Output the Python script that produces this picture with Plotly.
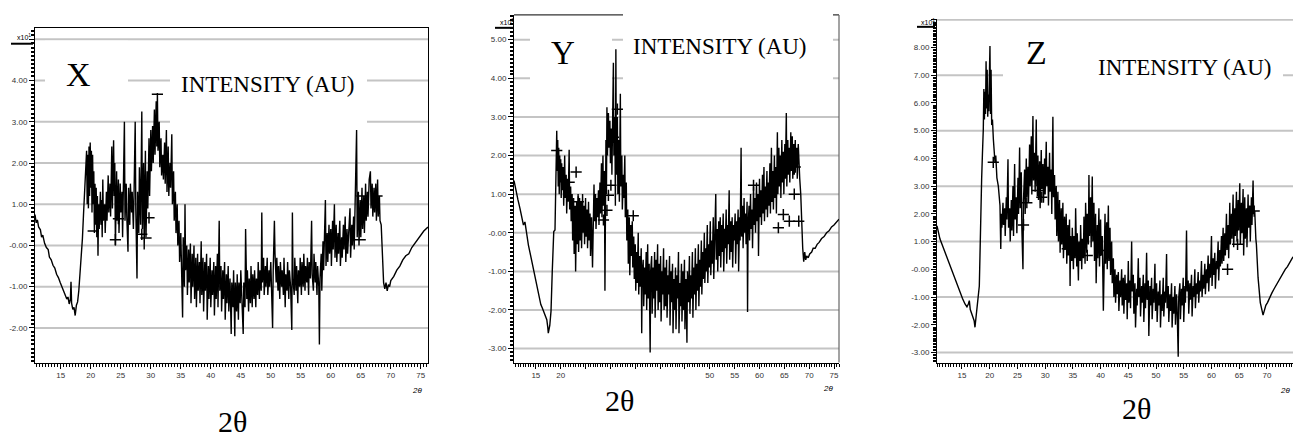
import plotly.graph_objects as go

W, H = 1293, 439

# ---------------- data ----------------
# Sample X : 2theta and intensity (x10^1 a.u.)
X_theta = [
    10.7, 10.9, 11.1, 11.3, 11.6, 11.8, 12.0, 12.3, 12.6, 12.9,
    13.1, 13.4, 13.7, 14.0, 14.3, 14.6, 14.9, 15.2, 15.5, 15.8,
    16.0, 16.2, 16.4, 16.6, 16.7, 16.8, 17.0, 17.2, 17.4, 17.6,
    17.8, 18.0, 18.2, 18.4, 18.6, 18.8, 19.0, 19.2,
    19.3, 19.4, 19.5, 19.6, 19.7, 19.8, 19.9, 20.0, 20.1, 20.2,
    20.3, 20.4, 20.5, 20.6, 20.7, 20.8, 20.9, 21.0, 21.1, 21.2,
    21.3, 21.4, 21.6, 21.7, 21.8, 21.9, 22.0, 22.1, 22.3, 22.4,
    22.6, 22.7, 22.9, 23.0, 23.2, 23.3, 23.5, 23.6, 23.8, 23.9,
    24.0, 24.1, 24.3, 24.4, 24.6, 24.7, 24.9, 25.0, 25.2, 25.3,
    25.5, 25.6, 25.7, 25.9, 26.0, 26.2, 26.3, 26.5, 26.6, 26.8,
    26.9, 27.1, 27.2, 27.4, 27.5, 27.7, 27.8, 28.0, 28.1, 28.3,
    28.5, 28.6, 28.8, 28.9, 29.1, 29.2, 29.4, 29.5, 29.7, 29.8,
    30.0, 30.1, 30.3, 30.4, 30.6, 30.7, 30.9, 31.0, 31.1, 31.2,
    31.4, 31.5, 31.7, 31.8, 32.0, 32.1, 32.3, 32.4, 32.6, 32.7,
    32.9, 33.0, 33.2, 33.3, 33.5, 33.6, 33.8, 33.9, 34.1, 34.2,
    34.4, 34.5, 34.7, 34.8, 35.0, 35.1, 35.3, 35.4, 35.6, 35.7,
    35.8, 36.0, 36.1, 36.3, 36.4, 36.6, 36.7, 36.9, 37.0, 37.2,
    37.3, 37.5, 37.6, 37.8, 37.9, 38.1, 38.2, 38.4, 38.5, 38.7,
    38.8, 39.0, 39.1, 39.3, 39.4, 39.6, 39.7, 39.9, 40.0, 40.2,
    40.3, 40.5, 40.6, 40.8, 40.9, 41.1, 41.2, 41.4, 41.5, 41.7,
    41.8, 42.0, 42.1, 42.3, 42.4, 42.6, 42.7, 42.9, 43.0, 43.2,
    43.4, 43.5, 43.7, 43.8, 44.0, 44.1, 44.3, 44.4, 44.6, 44.7,
    44.9, 45.0, 45.2, 45.4, 45.5, 45.7, 45.8, 46.0, 46.1, 46.3,
    46.4, 46.6, 46.7, 46.9, 47.0, 47.2, 47.3, 47.5, 47.6, 47.8,
    47.9, 48.1, 48.2, 48.4, 48.5, 48.6, 48.8, 48.9, 49.1, 49.2,
    49.4, 49.5, 49.7, 49.8, 50.0, 50.1, 50.3, 50.4, 50.6, 50.7,
    50.9, 51.0, 51.2, 51.3, 51.5, 51.6, 51.8, 51.9, 52.1, 52.2,
    52.4, 52.5, 52.7, 52.8, 53.0, 53.1, 53.3, 53.5, 53.6, 53.7,
    53.9, 54.0, 54.2, 54.3, 54.5, 54.6, 54.8, 54.9, 55.1, 55.2,
    55.4, 55.5, 55.7, 55.8, 56.0, 56.1, 56.3, 56.4, 56.6, 56.8,
    56.9, 57.1, 57.2, 57.4, 57.5, 57.7, 57.8, 58.0, 58.1, 58.2,
    58.4, 58.5, 58.7, 58.8, 59.0, 59.1, 59.2, 59.4, 59.5, 59.7,
    59.8, 60.0, 60.1, 60.3, 60.4, 60.6, 60.7, 60.9, 61.0, 61.2,
    61.3, 61.5, 61.6, 61.8, 61.9, 62.1, 62.2, 62.4, 62.5, 62.7,
    62.8, 63.0, 63.2, 63.3, 63.5, 63.6, 63.8, 63.9, 64.1, 64.3,
    64.4, 64.6, 64.7, 64.9, 65.0, 65.2, 65.3, 65.5, 65.6, 65.8,
    65.9, 66.1, 66.2, 66.4, 66.6, 66.7, 66.9, 67.0, 67.2, 67.3,
    67.5, 67.6, 67.8, 67.9, 68.1, 68.2, 68.4, 68.6, 68.8, 69.0,
    69.2, 69.4, 69.6, 69.8, 70.0, 70.5, 71.0, 71.5, 72.0, 72.5,
    73.0, 73.5, 74.0, 74.5, 75.0, 75.5, 76.2,
]
X_int = [
    0.75, 0.55, 0.62, 0.45, 0.38, 0.20, 0.25, 0.05, -0.05, -0.10,
    -0.28, -0.35, -0.48, -0.55, -0.70, -0.78, -0.90, -1.00, -1.12, -1.20,
    -1.30, -1.25, -1.42, -1.30, -0.88, -1.40, -1.55, -1.50, -1.70, -1.45,
    -1.37, -1.10, -0.72, -0.30, 0.16, 0.80, 1.50, 2.20,
    2.3, 1.0, 2.2, 0.9, 2.4, 1.2, 2.5, 1.4, 2.3, 0.8,
    2.2, 1.0, 1.8, 0.3, 1.5, 0.5, 1.4, 0.2, 1.2, -0.25,
    1.0, 0.4, 1.3, 0.5, 1.1, 0.2, 1.6, 0.6, 1.0, 0.3,
    1.3, 0.6, 1.7, 0.8, 1.5, 0.7, 2.4, 0.9, 2.55, 1.2,
    2.0, 0.0, 1.8, 0.6, 1.6, 0.3, 1.5, 0.8, 1.3, 0.2,
    1.6, 3.0, 0.6, 1.5, 0.7, -0.15, 1.4, 0.5, 1.5, 0.8,
    1.3, 0.4, 1.2, 3.0, 0.9, -0.8, 1.3, 0.3, 1.9, 0.5,
    3.25, 0.4, 2.0, -0.1, 2.3, 0.2, 1.8, 0.9, 2.6, 1.2,
    2.8, 1.8, 2.9, 2.0, 3.3, 2.2, 3.5, 2.4, 3.7, 2.3,
    3.0, 1.9, 2.6, 1.7, 2.2, 1.6, 2.5, 1.5, 2.8, 1.3,
    2.4, 1.2, 2.0, 1.4, 2.7, 1.0, 1.8, 0.6, 1.3, 0.3,
    1.0, 0.0, 0.6, -0.4, 0.3, -0.6, -1.75, 0.2, -1.0, 1.0,
    -0.6, 0.0, -1.2, -0.1, -0.9, 0.05, -1.4, -0.2, -1.0, 0.0,
    -1.3, -0.3, -1.5, -0.2, -1.1, -0.4, -1.4, 0.1, -1.2, -0.3,
    -1.6, -0.4, -1.1, -0.2, -1.8, -0.5, -1.3, -0.3, -1.5, -0.6,
    -1.2, -0.4, -1.7, -0.5, -1.3, -0.2, -1.5, 0.6, -1.1, -0.5,
    -1.6, -0.6, -1.3, -0.4, -1.8, -0.7, -1.4, -0.5, -1.6, -0.8,
    -2.15, -0.9, -1.5, -0.6, -2.2, -0.9, -1.6, -0.7, -1.8, -0.9,
    -1.4, -0.6, -1.7, -2.15, -0.9, -1.5, 0.4, -1.3, -0.6, -1.6,
    -0.8, -1.4, -0.5, -1.5, -0.7, -1.3, -0.6, -1.5, -0.8, -1.2,
    -0.4, -1.3, -0.6, -1.1, 0.8, -0.9, -0.3, -1.2, -0.5, -1.0,
    -0.3, -1.2, -0.6, -1.0, -0.4, -1.1, -2.0, -0.6, 0.6, -0.2,
    -0.9, -0.3, -1.1, -0.5, -1.3, -0.4, -1.0, -0.6, -1.2, -0.3,
    -1.5, -0.7, -1.1, -0.4, -1.3, -0.6, -1.0, -2.05, 0.8, -0.8,
    -1.2, -0.3, -1.1, -0.5, -1.4, -0.6, -1.0, -0.3, -1.2, -0.4,
    -1.0, -0.2, -1.1, -0.5, -0.9, -0.3, -1.2, -0.4, -0.8, 0.6,
    -0.7, -1.1, -0.2, -0.9, -0.4, -1.2, -0.5, -1.0, -2.4, -0.8,
    -0.2, -1.1, 0.1, -0.6, 0.2, 1.1, -0.5, 0.3, -0.4, 0.5,
    -0.2, 0.4, -0.5, 0.6, -0.1, 1.0, -0.3, 0.5, -0.4, 0.3,
    -0.2, 0.6, -0.5, 0.2, -0.3, 0.5, -0.1, 0.7, -0.4, 0.4,
    -0.2, 0.6, 0.9, -0.3, 0.5, 0.0, 0.7, -0.1, 1.2, 2.8,
    0.2, 1.3, 0.0, 1.1, 0.2, 1.4, 0.4, 1.2, 0.3, 1.5,
    0.6, 1.3, 0.7, 1.6, 1.8, 0.9, 1.5, 0.7, 1.4, 0.8,
    1.5, 0.6, 1.6, 0.7, 1.2, 0.6, 0.5, -0.3, -0.9, -1.05,
    -0.9, -1.1, -0.95, -1.0, -0.85, -0.75, -0.6, -0.5, -0.35, -0.25,
    -0.2, -0.05, 0.05, 0.15, 0.25, 0.35, 0.45,
]
X_cross_theta = [24.1, 24.6, 28.5, 29.7]
X_cross_int = [0.14, 0.65, 0.27, 0.67]
X_dash_theta = [20.4, 29.2, 31.1, 64.9, 65.2, 67.7]
X_dash_int = [0.35, 0.18, 3.67, 0.14, 1.2, 1.2]

# Sample Y
Y_theta = [
    10.6, 10.8, 11.1, 11.4, 11.8, 12.1, 12.5, 12.8, 13.1, 13.5,
    13.8, 14.2, 14.5, 14.8, 15.2, 15.5, 15.8, 16.0, 16.3, 16.5,
    16.8, 17.0, 17.2, 17.4, 17.5, 17.8, 18.05, 18.3, 18.6, 18.85,
    19.0, 19.2,
    19.3, 19.4, 19.5, 19.6, 19.7, 19.8, 19.9, 20.0, 20.1, 20.2,
    20.3, 20.5, 20.6, 20.8, 20.9, 21.1, 21.2, 21.4, 21.5, 21.7,
    21.8, 22.0, 22.1, 22.3, 22.4, 22.6, 22.7, 22.9, 23.0, 23.2,
    23.3, 23.5, 23.6, 23.8, 23.9, 24.1, 24.2, 24.4, 24.5, 24.7,
    24.8, 25.0, 25.1, 25.3, 25.4, 25.6, 25.7, 25.9, 26.0, 26.2,
    26.4, 26.5, 26.7, 26.8, 27.0, 27.1, 27.3, 27.4, 27.6, 27.7,
    27.9, 28.0, 28.2, 28.3, 28.5, 28.6, 28.8, 28.9, 29.0, 29.1,
    29.2, 29.3, 29.4, 29.6, 29.7, 29.9, 30.0, 30.2, 30.3, 30.5,
    30.6, 30.7, 30.9, 31.0, 31.1, 31.2, 31.4, 31.5, 31.7, 31.8,
    32.0, 32.1, 32.3, 32.4, 32.6, 32.7, 32.9, 33.0, 33.2, 33.3,
    33.5, 33.6, 33.8, 33.9, 34.1, 34.2, 34.4, 34.5, 34.7, 34.8,
    35.0, 35.1, 35.3, 35.4, 35.6, 35.7, 35.9, 36.0, 36.2, 36.3,
    36.4, 36.6, 36.7, 36.9, 37.0, 37.2, 37.3, 37.5, 37.6, 37.8,
    38.0, 38.1, 38.3, 38.4, 38.6, 38.7, 38.9, 39.0, 39.2, 39.3,
    39.5, 39.6, 39.8, 39.9, 40.1, 40.2, 40.4, 40.5, 40.7, 40.8,
    41.0, 41.1, 41.3, 41.4, 41.6, 41.7, 41.9, 42.0, 42.2, 42.3,
    42.5, 42.6, 42.8, 42.9, 43.1, 43.2, 43.4, 43.5, 43.7, 43.8,
    44.0, 44.1, 44.3, 44.4, 44.6, 44.7, 44.9, 45.0, 45.2, 45.4,
    45.5, 45.7, 45.9, 46.0, 46.2, 46.3, 46.5, 46.6, 46.8, 46.9,
    47.1, 47.2, 47.4, 47.5, 47.7, 47.8, 48.0, 48.1, 48.3, 48.4,
    48.6, 48.7, 48.9, 49.0, 49.2, 49.3, 49.5, 49.6, 49.8, 49.9,
    50.1, 50.2, 50.4, 50.5, 50.7, 50.8, 51.0, 51.2, 51.3, 51.5,
    51.6, 51.8, 51.9, 52.1, 52.2, 52.4, 52.5, 52.7, 52.8, 53.0,
    53.1, 53.3, 53.4, 53.6, 53.7, 53.9, 54.0, 54.2, 54.3, 54.5,
    54.6, 54.8, 54.9, 55.1, 55.2, 55.4, 55.5, 55.7, 55.8, 56.0,
    56.1, 56.3, 56.4, 56.6, 56.7, 56.9, 57.0, 57.2, 57.3, 57.5,
    57.6, 57.7, 57.9, 58.0, 58.2, 58.3, 58.5, 58.6, 58.8, 58.9,
    59.1, 59.2, 59.4, 59.5, 59.7, 59.8, 60.0, 60.1, 60.3, 60.4,
    60.6, 60.7, 60.9, 61.0, 61.2, 61.3, 61.5, 61.6, 61.8, 61.9,
    62.1, 62.2, 62.4, 62.5, 62.7, 62.8, 63.0, 63.1, 63.3, 63.4,
    63.6, 63.7, 63.9, 64.0, 64.2, 64.3, 64.5, 64.6, 64.8, 64.9,
    65.1, 65.2, 65.4, 65.5, 65.7, 65.8, 66.0, 66.1, 66.3, 66.4,
    66.6, 66.7, 66.9, 67.0, 67.2, 67.3, 67.5, 67.6, 67.8, 67.9,
    68.1, 68.3, 68.5, 68.7, 68.9, 69.1, 69.3, 69.5, 69.8, 70.1,
    70.5, 70.8, 71.2, 71.6, 72.0, 72.5, 73.0, 73.5, 74.0, 74.5,
    75.0, 75.5, 76.0,
]
Y_int = [
    1.35, 1.2, 1.05, 0.85, 0.63, 0.42, 0.2, 0.28, 0.0, -0.32,
    -0.5, -0.75, -0.95, -1.17, -1.4, -1.6, -1.75, -1.86, -1.95, -2.03,
    -2.1, -2.2, -2.25, -2.45, -2.6, -2.4, -2.03, -1.0, 0.03, 0.07,
    1.05, 2.64,
    1.6, 2.4, 1.2, 2.2, 1.0, 2.0, 1.3, 1.9, 0.9, 1.8,
    1.1, 1.7, 0.7, 2.0, 0.9, 1.5, 0.5, 1.4, 0.8, 2.15,
    0.6, 1.2, 0.3, 1.0, -0.2, 0.9, -0.55, 0.7, -1.0, 0.8,
    -0.3, 1.0, -0.5, 0.9, -0.2, 0.8, -0.4, 1.0, 0.0, 0.7,
    -0.3, 0.9, -0.1, 0.6, -0.4, 0.8, -0.2, 0.5, -0.6, 0.4,
    -0.9, 0.2, 1.25, 0.3, 1.0, 0.1, 0.9, 0.4, 1.1, 0.2,
    1.3, 0.5, 1.8, 0.4, 2.0, 0.7, 1.6, -1.5, 1.2, 2.4,
    1.0, 3.25, 2.0, 3.1, 2.2, 2.9, 1.8, 2.7, 1.5, 3.6,
    4.4, 2.0, 3.0, 0.7, 4.75, 1.5, 3.0, 1.0, 2.4, 0.8,
    3.6, 1.2, 2.0, 0.6, 1.5, 0.9, 2.0, 0.4, 1.3, -0.2,
    0.6, -0.8, 0.4, -1.1, 0.2, -0.6, 0.3, -0.9, -0.1, -1.2,
    -0.3, -1.5, -0.5, -1.3, 0.0, -1.6, -0.6, -1.4, -0.4, -2.6,
    -1.0, -0.7, -1.9, -0.9, -1.6, -0.5, -2.0, -0.3, -1.7, -0.8,
    -3.1, -1.0, -0.6, -2.1, -0.9, -1.7, -0.5, -2.2, -0.7, -1.5,
    -0.3, -2.0, -0.8, -1.8, -0.6, -2.3, -1.0, -1.6, -0.4, -2.0,
    -0.9, -1.9, -0.7, -2.2, -1.1, -1.6, -0.6, -2.4, -1.0, -1.8,
    -0.8, -2.6, -1.2, -2.0, -0.9, -2.5, -1.1, -1.7, -0.5, -2.6,
    -1.3, -1.9, -0.8, -2.3, -1.0, -2.0, -0.7, -2.5, -1.2, -2.85,
    -1.0, -1.8, -0.6, -2.1, -1.1, -1.7, -0.5, -2.2, -0.9, -1.6,
    -0.4, -2.0, -0.8, -1.5, -0.3, -1.9, -0.7, -1.4, -0.2, -1.6,
    -0.5, -1.2, 0.0, -1.3, -0.4, -1.0, 0.2, -1.3, -0.3, -0.9,
    0.3, -1.1, -0.2, -0.8, 0.4, -1.2, -0.1, 1.0, -0.7, 0.1,
    -1.0, 0.3, -0.6, 0.4, -0.9, 0.2, -0.5, 0.5, -1.0, 0.1,
    -0.4, 0.6, -0.8, 0.2, -0.3, 1.1, -0.7, 0.3, -0.5, 0.4,
    -0.9, 0.2, -0.2, 0.5, -0.8, 0.3, -0.3, 0.6, -1.0, 0.4,
    -0.2, 2.2, -0.1, 0.7, -0.4, 0.9, 0.0, 0.5, -0.3, 0.8,
    -2.05, 0.1, 0.7, -0.2, 1.0, 0.1, 0.6, -0.4, 1.2, 0.2,
    0.9, 0.0, 1.3, 0.3, 1.0, -0.6, 1.4, 0.4, 1.1, 0.2,
    1.5, 0.5, 1.7, 0.3, 1.2, 0.6, 1.6, 0.4, 1.3, 0.7,
    1.8, 0.5, 2.2, 0.8, 1.6, 0.6, 2.0, 0.9, 1.7, 0.5,
    2.6, 1.0, 2.2, 1.2, 2.0, 0.9, 2.4, 1.3, 2.1, 1.0,
    2.3, 1.4, 3.1, 1.2, 2.4, 1.5, 2.2, 1.3, 2.6, 1.6,
    2.5, 1.4, 2.3, 1.5, 2.4, 1.7, 2.2, 1.4, 2.3, 1.8,
    1.4, 1.0, 0.2, -0.4, -0.75, -0.5, -0.7, -0.6, -0.65, -0.55,
    -0.5, -0.4, -0.4, -0.3, -0.25, -0.15, -0.1, 0.0, 0.05, 0.15,
    0.2, 0.28, 0.35,
]
Y_cross_theta = [19.2, 21.7, 23.1, 23.55, 28.6, 29.3, 29.6, 30.1, 30.6, 31.4,
                 34.6, 58.8, 63.8, 64.8, 66.0, 66.2, 67.0, 67.2, 67.9]
Y_cross_int = [2.13, 1.31, 1.57, 0.8, 0.33, 0.58, 0.97, 1.23, 2.47, 3.2,
               0.44, 1.23, 0.13, 0.47, 0.3, 1.74, 1.0, 1.7, 0.3]

# Sample Z
Z_theta = [
    10.5, 10.8, 11.04, 11.5, 11.94, 12.4, 12.84, 13.3, 13.75, 14.2,
    14.65, 15.1, 15.55, 15.9, 16.15, 16.33, 16.5, 16.75, 17.0, 17.2,
    17.35, 17.55, 17.77, 18.0, 18.13, 18.25, 18.37, 18.55, 18.7, 18.85,
    18.95, 19.05, 19.15, 19.25, 19.35, 19.45, 19.55, 19.65, 19.75, 19.85,
    19.95, 20.05, 20.15, 20.25, 20.36, 20.5, 20.66, 20.8, 20.96, 21.1,
    21.3, 21.56, 21.7, 21.86,
    22.0, 22.1, 22.2, 22.4, 22.5, 22.7, 22.8, 23.0, 23.1, 23.3,
    23.4, 23.6, 23.7, 23.9, 24.0, 24.2, 24.3, 24.5, 24.6, 24.8,
    24.9, 25.1, 25.2, 25.4, 25.5, 25.7, 25.8, 26.0, 26.1, 26.3,
    26.4, 26.6, 26.7, 26.9, 27.0, 27.2, 27.3, 27.5, 27.6, 27.8,
    27.9, 28.1, 28.2, 28.4, 28.5, 28.7, 28.8, 29.0, 29.1, 29.3,
    29.4, 29.6, 29.7, 29.9, 30.0, 30.2, 30.3, 30.5, 30.6, 30.8,
    30.9, 31.1, 31.2, 31.4, 31.5, 31.7, 31.8, 32.0, 32.1, 32.3,
    32.4, 32.6, 32.7, 32.9, 33.0, 33.2, 33.3, 33.5, 33.6, 33.8,
    33.9, 34.1, 34.2, 34.4, 34.5, 34.6, 34.8, 34.9, 35.1, 35.2,
    35.4, 35.5, 35.7, 35.8, 36.0, 36.1, 36.3, 36.4, 36.6, 36.7,
    36.9, 37.0, 37.2, 37.3, 37.5, 37.6, 37.8, 37.9, 38.0, 38.2,
    38.3, 38.5, 38.6, 38.8, 38.9, 39.1, 39.2, 39.4, 39.5, 39.7,
    39.8, 40.0, 40.1, 40.3, 40.5, 40.6, 40.8, 40.9, 41.1, 41.2,
    41.4, 41.5, 41.7, 41.8, 42.0, 42.1, 42.3, 42.4, 42.6, 42.7,
    42.9, 43.0, 43.2, 43.3, 43.5, 43.6, 43.8, 43.9, 44.1, 44.2,
    44.4, 44.5, 44.7, 44.8, 45.0, 45.1, 45.3, 45.4, 45.6, 45.7,
    45.9, 46.0, 46.2, 46.3, 46.5, 46.6, 46.8, 46.9, 47.1, 47.2,
    47.4, 47.5, 47.7, 47.8, 48.0, 48.1, 48.3, 48.4, 48.6, 48.7,
    48.9, 49.0, 49.2, 49.3, 49.5, 49.6, 49.8, 49.9, 50.1, 50.2,
    50.4, 50.5, 50.7, 50.8, 51.0, 51.1, 51.3, 51.4, 51.6, 51.7,
    51.9, 52.0, 52.2, 52.3, 52.5, 52.6, 52.8, 52.9, 53.1, 53.2,
    53.4, 53.5, 53.7, 53.8, 54.0, 54.1, 54.3, 54.4, 54.6, 54.7,
    54.9, 55.0, 55.2, 55.3, 55.5, 55.6, 55.8, 55.9, 56.1, 56.2,
    56.4, 56.5, 56.7, 56.8, 57.0, 57.1, 57.3, 57.4, 57.6, 57.7,
    57.9, 58.0, 58.2, 58.3, 58.5, 58.6, 58.8, 58.9, 59.1, 59.2,
    59.4, 59.5, 59.7, 59.8, 60.0, 60.1, 60.3, 60.4, 60.6, 60.7,
    60.9, 61.0, 61.2, 61.3, 61.5, 61.6, 61.8, 61.9, 62.1, 62.2,
    62.4, 62.5, 62.7, 62.8, 63.0, 63.1, 63.3, 63.4, 63.6, 63.7,
    63.9, 64.0, 64.2, 64.3, 64.5, 64.6, 64.8, 64.9, 65.1, 65.2,
    65.4, 65.5, 65.7, 65.8, 66.0, 66.1, 66.3, 66.4, 66.6, 66.7,
    66.9, 67.0, 67.2, 67.3, 67.5, 67.6, 67.8, 68.0, 68.1, 68.4,
    68.8, 69.3, 69.5, 69.8, 70.1, 70.5, 70.9, 71.3, 71.7, 72.1,
    72.5, 72.9, 73.3, 73.7, 74.1, 74.7,
]
Z_int = [
    1.57, 1.3, 1.09, 0.85, 0.61, 0.37, 0.13, -0.1, -0.35, -0.6,
    -0.83, -1.05, -1.25, -1.35, -1.25, -1.13, -1.45, -1.6, -1.8, -1.85,
    -2.09, -1.7, -1.3, -0.9, -0.6, 0.5, 2.05, 3.25, 4.2, 5.05,
    6.5, 5.4, 6.4, 5.6, 7.5, 5.8, 7.2, 5.5, 6.3, 5.7,
    7.0, 8.05, 5.6, 7.2, 5.2, 5.4, 4.7, 4.2, 3.85, 4.1,
    3.3, 3.0, 2.6, 2.3,
    0.73, 2.0, 1.5, 2.4, 1.6, 2.2, 1.2, 2.6, 1.8, 3.97,
    1.5, 2.2, 1.0, 2.5, 1.4, 3.0, 1.2, 3.8, 1.8, 2.6,
    1.3, 3.3, 2.0, 4.39, 2.2, 3.5, 1.5, 0.0, 2.5, 3.6,
    2.0, 4.0, 2.6, 3.7, 2.4, 4.5, 3.0, 4.8, 2.7, 5.53,
    3.2, 4.2, 2.8, 5.4, 3.0, 4.1, 2.5, 3.9, 2.2, 4.3,
    2.9, 3.8, 2.4, 4.0, 2.7, 4.6, 3.0, 3.7, 2.3, 4.2,
    2.8, 3.6, 2.0, 5.5, 2.6, 3.4, 1.8, 3.0, 1.2, 2.8,
    1.0, 2.5, 0.6, 2.2, 0.9, 2.4, 0.4, 1.9, 0.7, 2.0,
    0.2, 1.6, 0.5, 1.8, -0.6, 1.2, 0.3, 1.5, 0.0, 1.2,
    0.4, 2.2, 0.1, 1.3, -0.4, 1.0, 0.3, 1.6, 0.0, 1.1,
    0.4, 1.9, 0.2, 2.4, 0.6, 2.0, 0.9, 3.4, 1.2, 2.6,
    0.8, 3.35, 1.0, 2.4, 0.3, 2.0, -0.5, 1.6, 0.4, 2.2,
    0.1, 1.8, 0.5, 1.2, -1.49, 0.6, 2.0, 0.2, 1.7, 0.0,
    2.3, 0.3, 1.5, -0.2, 1.0, -0.5, 0.4, -1.0, 0.0, -1.2,
    -0.2, -0.9, -0.1, -1.5, -0.4, -1.0, 0.0, -1.3, -0.3, -1.6,
    -0.2, -1.1, -0.5, -1.8, 0.3, -1.2, -0.4, -1.4, 1.0, -0.8,
    -0.2, -1.6, -0.5, -2.1, -0.7, -1.3, 0.4, -1.0, -0.3, -1.7,
    -0.6, -1.2, -0.2, -1.9, -0.5, -1.4, 0.6, -1.1, -0.4, -2.4,
    -0.6, -1.3, -0.3, -1.8, -0.7, -1.2, 0.2, -1.5, -0.5, -1.9,
    -0.8, -1.3, -0.4, -2.1, -0.9, -1.5, -0.3, -1.7, -0.8, -1.2,
    0.55, -1.4, -0.6, -1.9, -0.9, -1.5, -0.5, -2.1, -1.0, -1.6,
    -0.6, -2.0, -0.9, -1.4, -3.15, -1.0, -0.5, -1.8, -0.7, -1.3,
    -0.3, -1.9, -0.6, -1.2, 1.4, -0.8, -0.4, -1.6, -0.5, -1.1,
    -0.2, -1.7, -0.6, -1.0, 0.0, -1.4, -0.5, -0.9, -0.1, -1.2,
    -0.4, -0.8, 0.3, -1.0, -0.2, -0.7, 0.2, -0.9, 0.0, -0.5,
    0.5, -0.8, 0.2, -0.3, 1.2, -0.6, 0.4, -0.2, 0.6, -0.7,
    0.3, 0.0, 1.0, -0.4, 0.7, 0.1, 1.2, 0.2, 1.5, 0.3,
    1.3, 0.5, 2.0, 0.7, 1.6, 0.4, 2.4, 0.9, 2.0, 1.1,
    2.7, 0.8, 2.2, 1.2, 2.8, 1.0, 2.5, 1.4, 3.1, 0.9,
    2.4, 1.3, 2.9, 0.5, 2.6, 1.1, 2.2, 0.8, 2.7, 1.5,
    2.3, 1.0, 2.6, 1.6, 3.2, 2.0, 2.1, 1.1, 0.9, -0.3,
    -1.2, -1.65, -1.5, -1.3, -1.2, -1.0, -0.85, -0.7, -0.55, -0.4,
    -0.3, -0.15, 0.0, 0.1, 0.25, 0.45,
]
Z_cross_theta = [20.65, 26.1, 26.7, 28.6, 29.4, 34.0, 36.1, 37.6, 40.0, 62.9, 64.7, 67.7]
Z_cross_int = [3.86, 1.6, 2.4, 2.84, 2.6, 0.74, 0.65, 0.5, 0.68, 0.0, 0.9, 2.1]

# tick labels
X_ytick_vals = [-2, -1, 0, 1, 2, 3, 4, 5]
X_ytick_text = ["-2.00", "-1.00", "-0.00", "1.00", "2.00", "3.00", "4.00", " "]
Y_ytick_vals = [-3, -2, -1, 0, 1, 2, 3, 4, 5]
Y_ytick_text = ["-3.00", "-2.00", "-1.00", "-0.00", "1.00", "2.00", "3.00", "4.00", "5.00"]
Z_ytick_vals = [-3, -2, -1, 0, 1, 2, 3, 4, 5, 6, 7, 8, 9]
Z_ytick_text = ["-3.00", "-2.00", "-1.00", "-0.00", "1.00", "2.00", "3.00", "4.00",
                "5.00", "6.00", "7.00", "8.00", " "]
Y_xtick_hidden = [25, 30, 35, 40, 45]
X_grid_vals = [-2, -1, 0, 1, 2, 3, 4, 5]
Y_grid_vals = [-3, -2, -1, 0, 1, 2, 3, 4, 5]
Z_grid_vals = [-3, -1, 1, 3, 5, 7, 9]

# ---------------- layout helpers ----------------
def fx(px):
    return px / W


def fy(py):
    return 1 - py / H


def y_alias(vals, texts):
    d = {}
    for v, t in zip(vals, texts):
        s = f"{abs(v):.2f}"
        if v < 0:
            d["\u2212" + s] = t
            d["-" + s] = t
        elif v == 0:
            d[s] = t
            d["\u2212" + s] = t
        else:
            d[s] = t
    return d


panels = [
    dict(name="X", xa="x", ya="y", box=(35, 25, 428, 362), xr=[10.7, 76.2], yr=[-2.84, 5.28],
         theta=X_theta, inten=X_int, yalias=y_alias(X_ytick_vals, X_ytick_text), xalias={},
         grid=X_grid_vals, mirror=True),
    dict(name="Y", xa="x2", ya="y2", box=(514, 12, 839, 362), xr=[10.6, 76.0], yr=[-3.36, 5.64],
         theta=Y_theta, inten=Y_int, yalias=y_alias(Y_ytick_vals, Y_ytick_text),
         xalias={str(v): " " for v in Y_xtick_hidden},
         grid=Y_grid_vals, mirror=False),
    dict(name="Z", xa="x3", ya="y3", box=(937, 16, 1293, 362), xr=[10.5, 74.7], yr=[-3.36, 9.03],
         theta=Z_theta, inten=Z_int, yalias=y_alias(Z_ytick_vals, Z_ytick_text), xalias={},
         grid=Z_grid_vals, mirror=False),
]

fig = go.Figure()
tickfont = dict(family="Liberation Sans, Arial", size=8, color="#333333")
shapes = []
layout_axes = {}

for p in panels:
    l, t, r, b = p["box"]
    xkey = "xaxis" + p["xa"][1:]
    ykey = "yaxis" + p["ya"][1:]
    layout_axes[xkey] = dict(
        domain=[fx(l), fx(r)], range=p["xr"], anchor=p["ya"], showgrid=False, zeroline=False,
        showline=True, linecolor="black", linewidth=1, mirror=p["mirror"],
        ticks="outside", ticklen=5, tickwidth=1, tickcolor="black",
        tickmode="linear", tick0=0, dtick=5, labelalias=p["xalias"],
        tickfont=tickfont,
        minor=dict(ticks="outside", ticklen=3, tickwidth=1, tickcolor="black",
                   tickmode="linear", tick0=0, dtick=0.5, showgrid=False),
    )
    layout_axes[ykey] = dict(
        domain=[fy(b), fy(t)], range=p["yr"], anchor=p["xa"], showgrid=False, zeroline=False,
        showline=True, linecolor="black", linewidth=1, mirror=p["mirror"],
        ticks="outside", ticklen=5, tickwidth=1, tickcolor="black",
        tickmode="linear", tick0=0, dtick=1, tickformat=".2f", labelalias=p["yalias"],
        tickfont=tickfont,
        minor=dict(ticks="outside", ticklen=3, tickwidth=1.5, tickcolor="black",
                   tickmode="linear", tick0=0, dtick=0.1, showgrid=False),
    )
    for g in p["grid"]:
        shapes.append(dict(type="line", xref=p["xa"] + " domain", yref=p["ya"], x0=0, x1=1,
                           y0=g, y1=g, line=dict(color="#c4c4c4", width=2), layer="below"))
    fig.add_trace(go.Scatter(x=p["theta"], y=p["inten"], mode="lines", xaxis=p["xa"], yaxis=p["ya"],
                             line=dict(color="black", width=1.4), showlegend=False, hoverinfo="skip"))

# Y panel frame (partly hidden by the pasted label box)
shapes.append(dict(type="line", xref="x2 domain", yref="y2 domain", x0=0, x1=1, y0=1, y1=1,
                   line=dict(color="#333333", width=1.2), layer="below"))
shapes.append(dict(type="line", xref="x2 domain", yref="y2 domain", x0=1, x1=1, y0=0, y1=1,
                   line=dict(color="#666666", width=1.2), layer="below"))

# white label boxes (pixel boxes: left, top, right, bottom)
label_boxes = [(45, 38, 128, 106), (170, 42, 367, 123),
               (530, 13, 612, 87), (623, 0, 833, 78),
               (1003, 20, 1087, 88), (1087, 28, 1283, 98)]
for (l, t, r, b) in label_boxes:
    shapes.append(dict(type="rect", xref="paper", yref="paper", x0=fx(l), x1=fx(r), y0=fy(b), y1=fy(t),
                       fillcolor="white", line=dict(width=0), layer="below"))

# x10^1 underline marks
for (x0, x1, yy) in [(11, 33, 41), (495, 513, 25), (917, 935, 24)]:
    shapes.append(dict(type="line", xref="paper", yref="paper", x0=fx(x0), x1=fx(x1), y0=fy(yy), y1=fy(yy),
                       line=dict(color="black", width=2)))

# peak markers
for th, it, xa, ya in [(X_cross_theta, X_cross_int, "x", "y"), (Y_cross_theta, Y_cross_int, "x2", "y2"),
                       (Z_cross_theta, Z_cross_int, "x3", "y3")]:
    fig.add_trace(go.Scatter(x=th, y=it, mode="markers", xaxis=xa, yaxis=ya, showlegend=False,
                             hoverinfo="skip",
                             marker=dict(symbol="cross-thin", size=8, line=dict(color="black", width=1.5))))
fig.add_trace(go.Scatter(x=X_dash_theta, y=X_dash_int, mode="markers", xaxis="x", yaxis="y", showlegend=False,
                         hoverinfo="skip",
                         marker=dict(symbol="line-ew", size=8, line=dict(color="black", width=1.5))))

serif = "Liberation Serif, Times New Roman, serif"
ann = []


def add_text(text, px, py, size, family=serif, color="black"):
    ann.append(dict(text=text, x=fx(px), y=fy(py), xref="paper", yref="paper", showarrow=False,
                    xanchor="center", yanchor="middle", font=dict(family=family, size=size, color=color)))


add_text("X", 78.5, 72, 34)
add_text("INTENSITY (AU)", 267.5, 82, 23)
add_text("Y", 562.5, 50, 33)
add_text("INTENSITY (AU)", 720, 44, 23)
add_text("Z", 1036, 50, 34)
add_text("INTENSITY (AU)", 1185, 65, 23)
add_text("2θ", 232, 421, 30)
add_text("2θ", 619, 400, 30)
add_text("2θ", 1136, 408, 30)
sans = "Liberation Sans, Arial"
add_text("<i>2θ</i>", 417, 390, 8, sans)
add_text("<i>2θ</i>", 828, 388, 8, sans)
add_text("<i>2θ</i>", 1285, 390, 8, sans)
add_text("x10<sup>1</sup>", 24, 34, 7, sans)
add_text("x10<sup>1</sup>", 507, 19, 7, sans)
add_text("x10<sup>1</sup>", 928, 19, 7, sans)

fig.update_layout(
    width=W, height=H, autosize=False, margin=dict(l=0, r=0, t=0, b=0),
    paper_bgcolor="white", plot_bgcolor="white", showlegend=False,
    shapes=shapes, annotations=ann, **layout_axes,
)

fig.write_html("out.html")
